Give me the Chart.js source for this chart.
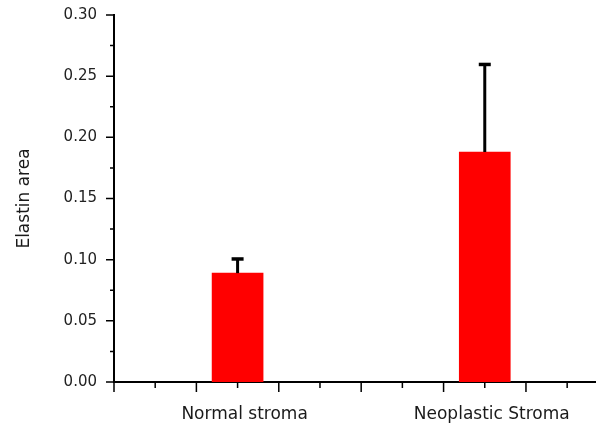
<!DOCTYPE html>
<html><head><meta charset="utf-8">
<script src="https://cdn.jsdelivr.net/npm/chart.js@4/dist/chart.umd.min.js"></script>
<style>html,body{margin:0;padding:0;background:#fff;} #wrap{width:596px;height:426px;}</style>
</head><body>
<div id="wrap"><canvas id="c" width="596" height="426"></canvas></div>
<script>
const categories = ['Normal stroma', 'Neoplastic Stroma'];
const elastinArea = [0.089, 0.188];
const elastinError = [0.013, 0.073];
const yTickValues = [0, 0.05, 0.10, 0.15, 0.20, 0.25, 0.30];
const yMinorStep = 0.025;
const yAxisTitle = 'Elastin area';

const FONT = "'DejaVu Sans', sans-serif";

const axisTicks = {
  id: 'axisTicks',
  afterDraw(chart) {
    const ctx = chart.ctx, xs = chart.scales.x, ys = chart.scales.y;
    const area = chart.chartArea;
    ctx.save();
    ctx.strokeStyle = '#000';
    ctx.lineWidth = 1.5;
    ctx.beginPath();
    for (let k = 0; k * yMinorStep <= ys.max + 1e-9; k++) {
      const py = ys.getPixelForValue(k * yMinorStep);
      const len = k % 2 === 0 ? 8 : 4;
      ctx.moveTo(area.left - len, py); ctx.lineTo(area.left, py);
    }
    const step = 1 / 6;
    for (let k = 0; xs.min + k * step <= xs.max + 1e-9; k++) {
      const px = xs.getPixelForValue(xs.min + k * step);
      const len = k % 2 === 0 ? 10 : 6;
      ctx.moveTo(px, area.bottom); ctx.lineTo(px, area.bottom + len);
    }
    ctx.stroke();
    ctx.restore();
  }
};

const errorBars = {
  id: 'errorBars',
  afterDatasetsDraw(chart) {
    const ctx = chart.ctx, ys = chart.scales.y;
    const meta = chart.getDatasetMeta(0);
    ctx.save();
    ctx.strokeStyle = '#000';
    meta.data.forEach((bar, i) => {
      const top = ys.getPixelForValue(elastinArea[i] + elastinError[i]);
      ctx.lineWidth = 3;
      ctx.beginPath();
      ctx.moveTo(bar.x, bar.y); ctx.lineTo(bar.x, top + 1);
      ctx.stroke();
      ctx.lineWidth = 3.5;
      ctx.beginPath();
      ctx.moveTo(bar.x - 6, top + 1.75); ctx.lineTo(bar.x + 6, top + 1.75);
      ctx.stroke();
    });
    ctx.restore();
  }
};

new Chart(document.getElementById('c'), {
  type: 'bar',
  data: {
    datasets: [{
      data: elastinArea.map((v, i) => ({ x: i, y: v })),
      backgroundColor: '#ff0000',
      borderWidth: 0,
      barThickness: 51
    }]
  },
  options: {
    responsive: false,
    animation: false,
    devicePixelRatio: 1,
    layout: { padding: { top: 15, right: 0, left: 0, bottom: 0 } },
    plugins: { legend: { display: false }, tooltip: { enabled: false } },
    scales: {
      x: {
        type: 'linear',
        offset: false,
        min: -0.5,
        max: 1.45,
        afterBuildTicks(scale) { scale.ticks = categories.map((c, i) => ({ value: i })); },
        afterFit(scale) { scale.height = 44; scale.paddingLeft = 0; scale.paddingRight = 0; },
        grid: { display: false, drawTicks: false, offset: false },
        border: { display: true, color: '#000', width: 2 },
        ticks: {
          autoSkip: false,
          maxRotation: 0,
          padding: 22,
          labelOffset: 7,
          color: '#1a1a1a',
          font: { family: FONT, size: 17 },
          callback: (v, i) => categories[i]
        }
      },
      y: {
        min: 0,
        max: 0.30,
        afterBuildTicks(scale) { scale.ticks = yTickValues.map(v => ({ value: v })); },
        afterFit(scale) { scale.width = 114; scale.paddingTop = 8; scale.paddingBottom = 8; },
        grid: { display: false, drawTicks: false },
        border: { display: true, color: '#000', width: 2 },
        ticks: {
          padding: 17,
          color: '#222',
          font: { family: FONT, size: 15 },
          callback: v => Number(v).toFixed(2)
        },
        title: {
          display: true,
          text: yAxisTitle,
          color: '#1a1a1a',
          font: { family: FONT, size: 17 },
          padding: { top: 14, bottom: 0 }
        }
      }
    }
  },
  plugins: [axisTicks, errorBars]
});
</script>
</body></html>
